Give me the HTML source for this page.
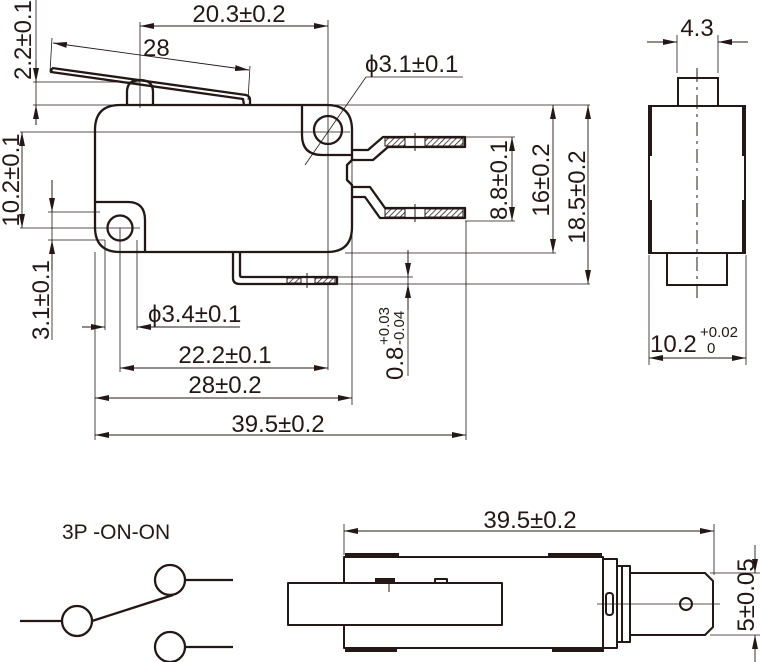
<!DOCTYPE html>
<html><head><meta charset="utf-8"><style>
html,body{margin:0;padding:0;background:#fff;}
svg{display:block;}
text{font-family:"Liberation Sans",Arial,sans-serif;fill:#231815;}
</style></head><body>
<svg width="760" height="662" viewBox="0 0 760 662" xmlns="http://www.w3.org/2000/svg">
<defs>
<marker id="a" viewBox="0 0 14 6" refX="14" refY="3" markerWidth="14" markerHeight="6" orient="auto-start-reverse" markerUnits="userSpaceOnUse"><path d="M0,0 L14,3 L0,6 Z" fill="#231815"/></marker>
<pattern id="h" width="4" height="4" patternUnits="userSpaceOnUse" patternTransform="rotate(45)"><rect width="4" height="4" fill="#fff"/><line x1="0" y1="0" x2="0" y2="4" stroke="#231815" stroke-width="1.5"/></pattern>
</defs>

<g stroke="#231815" stroke-width="0.8" fill="none">
<line x1="140" y1="22" x2="140" y2="108"/>
<line x1="328" y1="20" x2="328" y2="370"/>
<line x1="33" y1="82" x2="140" y2="82"/>
<line x1="33" y1="105" x2="590" y2="105"/>
<line x1="52" y1="38" x2="50" y2="72"/>
<line x1="250" y1="66" x2="248" y2="100"/>
<line x1="20" y1="132" x2="350" y2="132"/>
<line x1="20" y1="228" x2="140" y2="228"/>
<line x1="48" y1="212" x2="100" y2="212"/>
<line x1="48" y1="240" x2="105" y2="240"/>
<line x1="345" y1="253" x2="556" y2="253"/>
<line x1="465" y1="137" x2="515" y2="137"/>
<line x1="465" y1="221" x2="515" y2="221"/>
<line x1="336" y1="277" x2="413" y2="277"/>
<line x1="336" y1="284" x2="590" y2="284"/>
<line x1="95" y1="252" x2="95" y2="440"/>
<line x1="105" y1="240" x2="105" y2="330"/>
<line x1="120" y1="228" x2="120" y2="372"/>
<line x1="137" y1="240" x2="137" y2="330"/>
<line x1="352" y1="160" x2="352" y2="405"/>
<line x1="466" y1="221" x2="466" y2="440"/>
<line x1="408" y1="250" x2="408" y2="376"/>
<line x1="36" y1="0" x2="36" y2="125"/>
<line x1="52" y1="180" x2="52" y2="340"/>
<line x1="366" y1="77" x2="463" y2="77"/>
<line x1="366" y1="77" x2="305" y2="165"/>
<line x1="677" y1="35" x2="677" y2="73"/>
<line x1="718" y1="35" x2="718" y2="73"/>
<line x1="649" y1="255" x2="649" y2="365"/>
<line x1="746" y1="255" x2="746" y2="365"/>
<line x1="344" y1="524" x2="344" y2="555"/>
<line x1="714" y1="524" x2="714" y2="575"/>
<line x1="710" y1="573" x2="760" y2="573"/>
<line x1="710" y1="635" x2="760" y2="635"/>
<line x1="597" y1="604" x2="720" y2="604"/>
</g>

<g stroke="#231815" stroke-width="0.9" fill="none">
<line x1="140" y1="26" x2="328" y2="26" marker-start="url(#a)" marker-end="url(#a)"/>
<line x1="53" y1="43" x2="249" y2="70" marker-start="url(#a)" marker-end="url(#a)"/>
<line x1="36" y1="60" x2="36" y2="82" marker-end="url(#a)"/>
<line x1="36" y1="125" x2="36" y2="105" marker-end="url(#a)"/>
<line x1="22" y1="132" x2="22" y2="228" marker-start="url(#a)" marker-end="url(#a)"/>
<line x1="52" y1="180" x2="52" y2="212" marker-end="url(#a)"/>
<line x1="52" y1="270" x2="52" y2="240" marker-end="url(#a)"/>
<line x1="82" y1="327" x2="105" y2="327" marker-end="url(#a)"/>
<line x1="240" y1="327" x2="137" y2="327" marker-end="url(#a)"/>
<line x1="120" y1="368" x2="328" y2="368" marker-start="url(#a)" marker-end="url(#a)"/>
<line x1="95" y1="398" x2="352" y2="398" marker-start="url(#a)" marker-end="url(#a)"/>
<line x1="95" y1="435" x2="466" y2="435" marker-start="url(#a)" marker-end="url(#a)"/>
<line x1="512" y1="137" x2="512" y2="221" marker-start="url(#a)" marker-end="url(#a)"/>
<line x1="553" y1="105" x2="553" y2="253" marker-start="url(#a)" marker-end="url(#a)"/>
<line x1="588" y1="105" x2="588" y2="284" marker-start="url(#a)" marker-end="url(#a)"/>
<line x1="408" y1="250" x2="408" y2="277" marker-end="url(#a)"/>
<line x1="408" y1="310" x2="408" y2="284" marker-end="url(#a)"/>
<line x1="647" y1="42" x2="677" y2="42" marker-end="url(#a)"/>
<line x1="748" y1="42" x2="718" y2="42" marker-end="url(#a)"/>
<line x1="649" y1="358" x2="746" y2="358" marker-start="url(#a)" marker-end="url(#a)"/>
<line x1="344" y1="531" x2="714" y2="531" marker-start="url(#a)" marker-end="url(#a)"/>
<line x1="755" y1="545" x2="755" y2="573" marker-end="url(#a)"/>
<line x1="755" y1="662" x2="755" y2="635" marker-end="url(#a)"/>
</g>

<g stroke="#231815" stroke-width="2.3" fill="none" stroke-linejoin="round">
<path d="M120,105 L327,105 Q352,105 352,130 L352,160 L347,165 L347,180 L352,185 L352,227 Q352,252 327,252 L120,252 Q95,252 95,227 L95,130 Q95,105 120,105 Z"/>
<path d="M302,105 L302,135 Q302,155 322,155 L352,155"/>
<circle cx="328" cy="130" r="14"/>
<path d="M95,202 L128,202 Q145,202 145,220 L145,252"/>
<circle cx="120" cy="228" r="12.5"/>
<path d="M127,105 L127,92 Q127,80 140,80 Q153,80 153,92 L153,105"/>
<path d="M52,68 L246,95 Q250,96 250,100 L250,105"/>
<path d="M52,68 L51,72 L243,99 L244,105"/>
<path d="M352,150 L368,150 L383,137 L465,137 L465,147 L388,147 L373,160 L352,160"/>
<path d="M352,187 L370,187 L385,208 L465,208 L465,218 L380,218 L365,197 L352,197"/>
<path d="M233,253 L233,278 Q233,284 240,284 L337,284 L337,277 L242,277 Q240,277 240,275 L240,253"/>
</g>
<g stroke="#231815" stroke-width="1">
<rect x="385" y="138" width="20" height="8" fill="url(#h)"/>
<rect x="425" y="138" width="38" height="8" fill="url(#h)"/>
<rect x="385" y="209" width="20" height="8" fill="url(#h)"/>
<rect x="425" y="209" width="38" height="8" fill="url(#h)"/>
<rect x="287" y="278" width="14" height="5" fill="url(#h)"/>
<rect x="315" y="278" width="20" height="5" fill="url(#h)"/>
<line x1="415" y1="133" x2="415" y2="151"/>
<line x1="415" y1="204" x2="415" y2="222"/>
<line x1="307" y1="273" x2="307" y2="288"/>
</g>

<g stroke="#231815" stroke-width="2" fill="none">
<rect x="649" y="106" width="96" height="147"/>
<rect x="678" y="78" width="40" height="28"/>
<rect x="667" y="253" width="60" height="32"/>
</g>
<g fill="#231815">
<rect x="648" y="106" width="4" height="50"/>
<rect x="648" y="200" width="4" height="53"/>
<rect x="742" y="106" width="4" height="50"/>
<rect x="742" y="200" width="4" height="53"/>
</g>
<line x1="697" y1="68" x2="697" y2="298" stroke="#231815" stroke-width="1" stroke-dasharray="14,5,3,5"/>

<g stroke="#231815" stroke-width="2" fill="none" stroke-linejoin="round">
<rect x="344" y="557" width="259" height="91"/>
<rect x="288" y="583" width="214" height="42" fill="#fff"/>
<path d="M603,557 L603,559 L617,559 L617,566 L630,566 L630,573 L705,573 L713,581 L713,627 L705,635 L630,635 L630,642 L617,642 L617,648 L603,648"/>
<line x1="617" y1="566" x2="617" y2="642"/>
<line x1="630" y1="573" x2="630" y2="635"/>
<line x1="622" y1="566" x2="622" y2="642"/>
<circle cx="686" cy="604" r="6"/>
<rect x="606" y="593" width="7" height="22" rx="3"/>
<rect x="435" y="579" width="12" height="4"/>
</g>
<g fill="#231815">
<rect x="345" y="553" width="54" height="4"/>
<rect x="548" y="553" width="54" height="4"/>
<rect x="345" y="648" width="52" height="4"/>
<rect x="552" y="648" width="52" height="4"/>
<rect x="375" y="578" width="20" height="5"/>
</g>
<line x1="389" y1="580" x2="389" y2="592" stroke="#231815" stroke-width="1"/>

<g stroke="#231815" stroke-width="2.3" fill="none">
<line x1="20" y1="621" x2="62" y2="621"/>
<circle cx="77" cy="621" r="15"/>
<circle cx="170" cy="580" r="15"/>
<circle cx="170" cy="647" r="15"/>
<line x1="185" y1="580" x2="233" y2="580"/>
<line x1="185" y1="647" x2="233" y2="647"/>
<line x1="92" y1="621" x2="173" y2="595"/>
</g>
<text x="62" y="539" font-size="21">3P -ON-ON</text>

<g font-size="24">
<text x="239" y="22" text-anchor="middle">20.3±0.2</text>
<text x="143" y="56">28</text>
<text x="365" y="72">ϕ3.1±0.1</text>
<text x="697" y="36" text-anchor="middle">4.3</text>
<text transform="translate(31,40) rotate(-90)" text-anchor="middle">2.2±0.1</text>
<text transform="translate(19,180) rotate(-90)" text-anchor="middle">10.2±0.1</text>
<text transform="translate(49,300) rotate(-90)" text-anchor="middle">3.1±0.1</text>
<text x="148" y="322">ϕ3.4±0.1</text>
<text x="225" y="363" text-anchor="middle">22.2±0.1</text>
<text x="225" y="393" text-anchor="middle">28±0.2</text>
<text x="278" y="432" text-anchor="middle">39.5±0.2</text>
<text transform="translate(507,180) rotate(-90)" text-anchor="middle">8.8±0.1</text>
<text transform="translate(549,180) rotate(-90)" text-anchor="middle">16±0.2</text>
<text transform="translate(585,197) rotate(-90)" text-anchor="middle">18.5±0.2</text>
<text x="530" y="528" text-anchor="middle">39.5±0.2</text>
<text transform="translate(754,595) rotate(-90)" text-anchor="middle">5±0.05</text>
<text x="650" y="352">10.2</text>
<text transform="translate(403,380) rotate(-90)">0.8</text>
</g>
<g font-size="15">
<text x="700" y="337">+0.02</text>
<text x="707" y="353">0</text>
<text transform="translate(389,345) rotate(-90)">+0.03</text>
<text transform="translate(404,345) rotate(-90)">-0.04</text>
</g>
</svg>
</body></html>
